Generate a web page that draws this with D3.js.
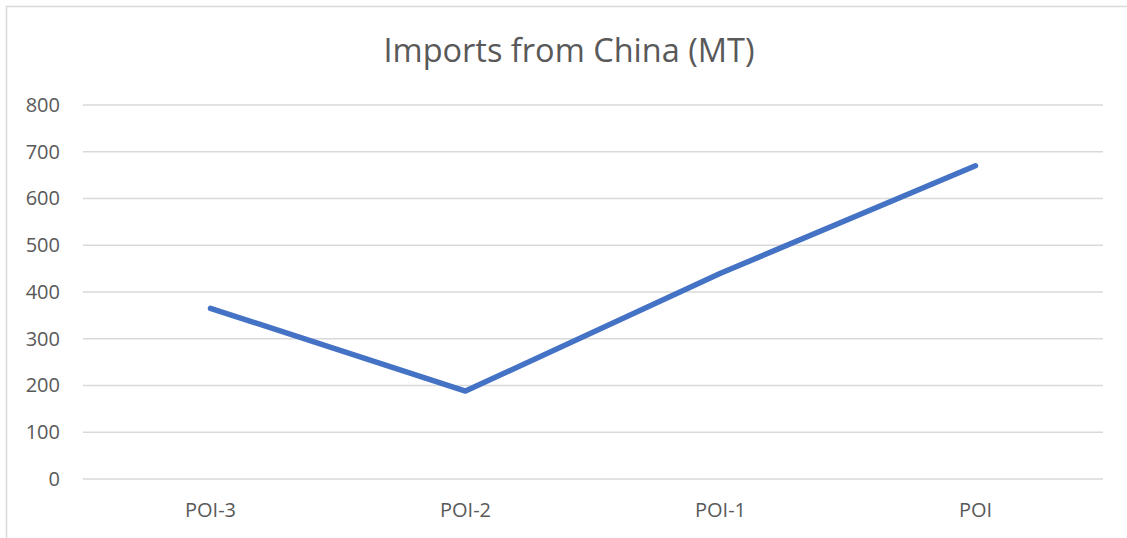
<!DOCTYPE html>
<html>
<head>
<meta charset="utf-8">
<script src="https://cdn.jsdelivr.net/npm/d3@7"></script>
<style>
  body { margin: 0; background: #fff; }
  svg { display: block; font-family: "Open Sans", sans-serif; }
</style>
</head>
<body>
<div id="chart"></div>
<script>
/* DATA */
const categories = ["POI-3", "POI-2", "POI-1", "POI"];
const imports = [365, 188, 440, 670];
const yTicks = [0, 100, 200, 300, 400, 500, 600, 700, 800];
const title = "Imports from China (MT)";

/* LAYOUT */
const width = 1127, height = 538;
const margin = { top: 105, right: 24, bottom: 59, left: 83 };

const svg = d3.select("#chart")
  .append("svg")
  .attr("width", width)
  .attr("height", height);

// chart frame (only top and left edges are visible in the crop)
svg.append("path")
  .attr("d", `M6.5,${height} V6.5 H${width}`)
  .attr("fill", "none")
  .attr("stroke", "#d9d9d9")
  .attr("stroke-width", 1.5);

const x = d3.scaleBand()
  .domain(categories)
  .range([margin.left, width - margin.right]);

const y = d3.scaleLinear()
  .domain([0, 800])
  .range([height - margin.bottom, margin.top]);

// gridlines
svg.append("g")
  .selectAll("line")
  .data(yTicks)
  .join("line")
  .attr("x1", margin.left)
  .attr("x2", width - margin.right)
  .attr("y1", d => y(d))
  .attr("y2", d => y(d))
  .attr("stroke", "#d9d9d9")
  .attr("stroke-width", 1.5);

// y axis labels
const yAxis = svg.append("g")
  .attr("transform", `translate(${margin.left - 23},0)`)
  .call(d3.axisLeft(y).tickValues(yTicks).tickSize(0).tickPadding(0));
yAxis.select(".domain").remove();
yAxis.selectAll("text")
  .attr("fill", "#595959")
  .style("font-size", "20px")
  .style("font-family", "'Open Sans', sans-serif");

// x axis labels
const xAxis = svg.append("g")
  .attr("transform", `translate(0,${height - margin.bottom})`)
  .call(d3.axisBottom(x).tickSize(0).tickPadding(24));
xAxis.select(".domain").remove();
xAxis.selectAll("text")
  .attr("fill", "#595959")
  .style("font-size", "20px")
  .style("font-family", "'Open Sans', sans-serif");

// line
const line = d3.line()
  .x((d, i) => x(categories[i]) + x.bandwidth() / 2)
  .y(d => y(d));

svg.append("path")
  .datum(imports)
  .attr("d", line)
  .attr("fill", "none")
  .attr("stroke", "#4472c4")
  .attr("stroke-width", 5.5)
  .attr("stroke-linecap", "round")
  .attr("stroke-linejoin", "round");

// title
svg.append("text")
  .attr("x", 569)
  .attr("y", 62)
  .attr("text-anchor", "middle")
  .attr("fill", "#595959")
  .style("font-size", "32.5px")
  .text(title);
</script>
</body>
</html>
